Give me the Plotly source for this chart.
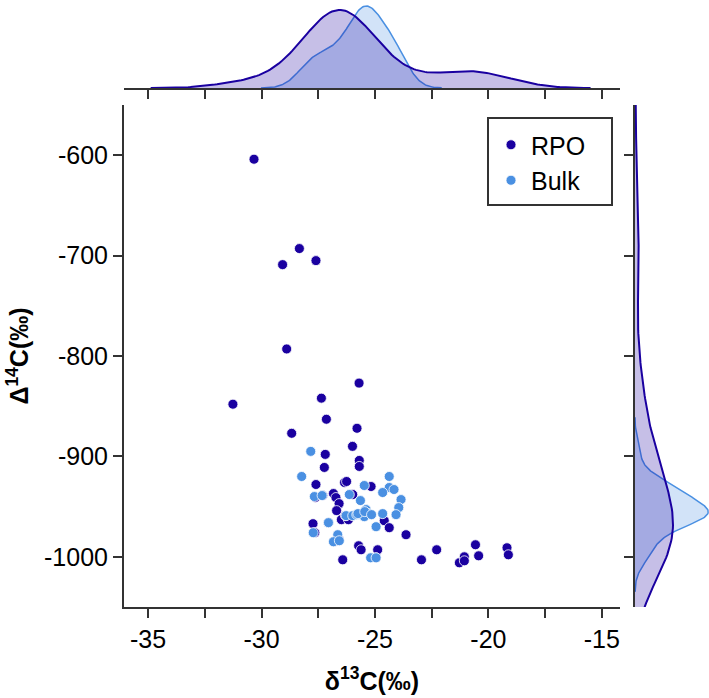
import numpy as np
import plotly.graph_objects as go

# ---------------- data ----------------
rpo_d13c = [-30.33, -28.33, -29.07, -27.60, -28.89, -25.70, -27.36, -31.26, -27.14, -28.67,
            -25.79, -27.19, -25.99, -27.23, -25.69, -25.69, -27.60, -26.34, -26.25, -25.17,
            -26.83, -26.72, -26.58, -26.69, -25.98, -26.48, -26.17, -27.73, -24.59, -24.37,
            -23.63, -25.72, -25.61, -24.88, -26.42, -24.95, -27.63, -22.95, -22.28, -21.28,
            -21.06, -21.06, -20.57, -20.43, -19.18, -19.12,
            -27.30, -27.05, -26.80, -27.65, -26.60, -26.30]
rpo_D14c = [-604, -693, -709, -705, -793, -827, -842, -848, -863, -877,
            -872, -898, -890, -911, -904, -910, -928, -926, -925, -930,
            -937, -941, -947, -954, -938, -963, -963, -967, -964, -971,
            -978, -989, -993, -993, -1003, -1001, -941, -1003, -993, -1006,
            -1000, -1004, -988, -999, -991, -998,
            -939, -966, -985, -976, -982, -959]

bulk_d13c = [-27.83, -28.23, -27.67, -27.33, -25.47, -24.37, -24.37, -24.16, -24.66, -26.13,
             -25.64, -23.85, -23.95, -24.07, -24.66, -26.27, -25.98, -25.61, -25.39, -25.28,
             -25.47, -27.05, -24.95, -27.72, -26.64, -26.83, -26.57, -25.19, -24.95, -25.80,
             -25.75, -25.45, -25.15]
bulk_D14c = [-895, -920, -940, -939, -929, -920, -931, -933, -936, -938,
             -944, -943, -951, -958, -957, -959, -959, -958, -953, -957,
             -960, -966, -970, -976, -978, -985, -984, -1001, -1001, -958,
             -957, -955, -958]

series_names = ["RPO", "Bulk"]
x_ticks = [-35, -32.5, -30, -27.5, -25, -22.5, -20, -17.5, -15]
x_ticktext = ["-35", "", "-30", "", "-25", "", "-20", "", "-15"]
y_ticks = [-1000, -900, -800, -700, -600]

# ---------------- style ----------------
C_RPO = "#1a00a0"
C_BULK = "#4a90e2"
F_RPO = "rgba(26,0,160,0.25)"
F_BULK = "rgba(74,144,226,0.25)"
AX = "#333333"
FONT = "Liberation Sans, Arial, sans-serif"

W, H = 709, 698
def px(v):
    return v / W
def py(v):
    return 1 - v / H

main_x = [px(124), px(620)]
main_y = [py(607), py(105)]
top_y = [py(88), 1.0]
right_x = [px(635), 1.0]


def kde(data, n_total, cut=3, gridsize=200):
    d = np.asarray(data, dtype=float)
    n = len(d)
    bw = d.std(ddof=1) * n ** (-1 / 5)
    grid = np.linspace(d.min() - cut * bw, d.max() + cut * bw, gridsize)
    z = (grid[:, None] - d[None, :]) / bw
    dens = np.exp(-0.5 * z ** 2).sum(axis=1) / (n * bw * np.sqrt(2 * np.pi))
    return grid, dens * n / n_total


N = len(rpo_d13c) + len(bulk_d13c)
gx_r, dx_r = kde(rpo_d13c, N)
gx_b, dx_b = kde(bulk_d13c, N)
gy_r, dy_r = kde(rpo_D14c, N)
gy_b, dy_b = kde(bulk_D14c, N)

fig = go.Figure()

# main scatter
fig.add_trace(go.Scatter(x=rpo_d13c, y=rpo_D14c, mode="markers", name=series_names[0],
                         marker=dict(color=C_RPO, size=10, line=dict(color="white", width=0.8)),
                         xaxis="x", yaxis="y"))
fig.add_trace(go.Scatter(x=bulk_d13c, y=bulk_D14c, mode="markers", name=series_names[1],
                         marker=dict(color=C_BULK, size=10, line=dict(color="white", width=0.8)),
                         xaxis="x", yaxis="y"))

# top marginal
fig.add_trace(go.Scatter(x=gx_b, y=dx_b, mode="lines", fill="tozeroy", fillcolor=F_BULK,
                         line=dict(color=C_BULK, width=1.5), showlegend=False,
                         xaxis="x2", yaxis="y2"))
fig.add_trace(go.Scatter(x=gx_r, y=dx_r, mode="lines", fill="tozeroy", fillcolor=F_RPO,
                         line=dict(color=C_RPO, width=2), showlegend=False,
                         xaxis="x2", yaxis="y2"))

# right marginal
fig.add_trace(go.Scatter(x=dy_b, y=gy_b, mode="lines", fill="tozerox", fillcolor=F_BULK,
                         line=dict(color=C_BULK, width=1.5), showlegend=False,
                         xaxis="x3", yaxis="y3"))
fig.add_trace(go.Scatter(x=dy_r, y=gy_r, mode="lines", fill="tozerox", fillcolor=F_RPO,
                         line=dict(color=C_RPO, width=2), showlegend=False,
                         xaxis="x3", yaxis="y3"))

xr = [-36.06, -14.2]
yr = [-1050, -550]
tick_common = dict(showline=True, linewidth=2, linecolor=AX, ticks="outside", ticklen=9,
                   tickwidth=2, tickcolor=AX, showgrid=False, zeroline=False)

top_max = max(dx_r.max(), dx_b.max())
right_max = dy_r.max() * 74 / 38

fig.update_layout(
    width=W, height=H, autosize=False,
    margin=dict(l=0, r=0, t=0, b=0),
    paper_bgcolor="white", plot_bgcolor="white",
    font=dict(family=FONT, size=25, color="black"),
    xaxis=dict(domain=main_x, range=xr, tickmode="array", tickvals=x_ticks, ticktext=x_ticktext,
               title=dict(text="<b>δ<sup>13</sup>C(‰)</b>", font=dict(size=25), standoff=20),
               anchor="y", **tick_common),
    yaxis=dict(domain=main_y, range=yr, tickmode="array", tickvals=y_ticks,
               ticktext=[str(v) for v in y_ticks],
               title=dict(text="<b>Δ<sup>14</sup>C(‰)</b>", font=dict(size=25), standoff=8),
               anchor="x", **tick_common),
    xaxis2=dict(domain=main_x, range=xr, tickmode="array", tickvals=x_ticks, showticklabels=False,
                anchor="y2", **tick_common),
    yaxis2=dict(domain=top_y, range=[0, top_max * 88 / 82], visible=False, anchor="x2"),
    xaxis3=dict(domain=right_x, range=[0, right_max], visible=False, anchor="y3"),
    yaxis3=dict(domain=main_y, range=yr, tickmode="array", tickvals=y_ticks, showticklabels=False,
                anchor="x3", **tick_common),
    legend=dict(x=px(491), y=py(122), xanchor="left", yanchor="top",
                borderwidth=0, bgcolor="rgba(0,0,0,0)",
                font=dict(size=25), tracegroupgap=0),
    shapes=[dict(type="rect", xref="paper", yref="paper",
                 x0=px(488), x1=px(612), y0=py(205), y1=py(118),
                 line=dict(color=AX, width=2), fillcolor="rgba(0,0,0,0)", layer="above")],
)

fig.write_html("out.html")
